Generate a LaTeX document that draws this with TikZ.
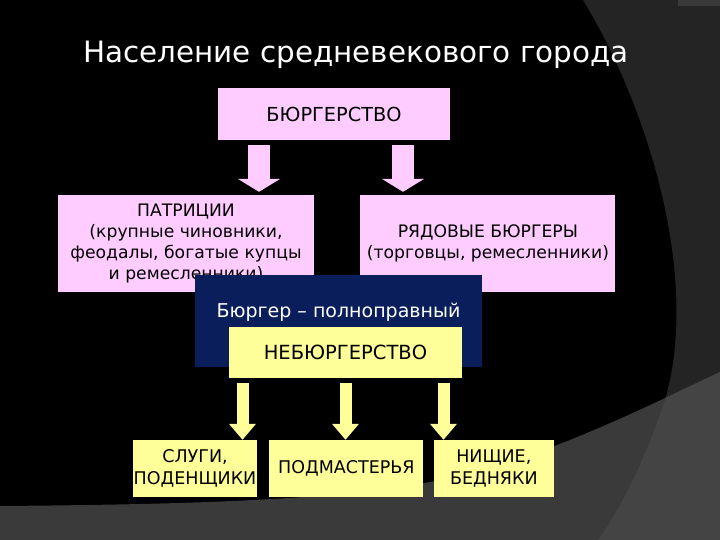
\documentclass[tikz,border=0pt]{standalone}
\usepackage{fontspec}
\setmainfont{DejaVu Sans}
\usepackage{xcolor}
\definecolor{medPink}{HTML}{FFCCFF}
\definecolor{medYellow}{HTML}{FFFF99}
\definecolor{medNavy}{HTML}{0A1E5C}
\definecolor{bgDark}{HTML}{242424}
\definecolor{bgGray}{HTML}{3A3A3A}
\definecolor{bgLight}{HTML}{444444}
\usepackage{tikz}
\usetikzlibrary{arrows.meta,positioning}
\tikzset{pinkbox/.style={fill=medPink, text=black, inner sep=0pt, align=center, font=\fontsize{17.2}{21}\selectfont}}
\tikzset{yellowbox/.style={fill=medYellow, text=black, inner sep=0pt, align=center, font=\fontsize{17.5}{22}\selectfont}}
\tikzset{navybox/.style={fill=medNavy, text=white, inner sep=0pt, font=\fontsize{19}{21}\selectfont}}
\tikzset{pinkarrow/.style={draw=medPink, line width=22pt, shorten >=3pt, -{Triangle[width=42pt,length=13pt]}}}
\tikzset{yellowarrow/.style={draw=medYellow, line width=12pt, shorten >=0pt, -{Triangle[width=26pt,length=16pt]}}}

\begin{document}
\begin{tikzpicture}[x=1pt,y=-1pt]
\useasboundingbox (0,0) rectangle (720,540);
\fill[black] (0,0) rectangle (720,540);
\fill[bgDark] (583,0) .. controls (650,110) and (700,280) .. (665,400) .. controls (645,460) and (620,510) .. (598,540) -- (720,540) -- (720,0) -- cycle;
\fill[bgGray] (0,506) .. controls (250,504) and (400,497) .. (500,465) .. controls (580,440) and (650,405) .. (720,372) -- (720,540) -- (0,540) -- cycle;
\begin{scope}
\clip (0,506) .. controls (250,504) and (400,497) .. (500,465) .. controls (580,440) and (650,405) .. (720,372) -- (720,540) -- (0,540) -- cycle;
\fill[bgLight] (583,0) .. controls (650,110) and (700,280) .. (665,400) .. controls (645,460) and (620,510) .. (598,540) -- (720,540) -- (720,0) -- cycle;
\end{scope}
\fill[bgGray] (678,0) rectangle (720,6);

\node[text=white, font=\fontsize{29.4}{34}\selectfont, anchor=base] (title) at (356,63) {Население средневекового города};

\node[pinkbox, minimum width=232pt, minimum height=52pt, font=\fontsize{19.3}{21}\selectfont] (burg) at (334,114) {БЮРГЕРСТВО};
\node[pinkbox, minimum width=256pt, minimum height=97pt] (patr) at (186,243.5) {ПАТРИЦИИ\\(крупные чиновники,\\феодалы, богатые купцы\\и ремесленники)};
\node[pinkbox, minimum width=255pt, minimum height=97pt, right=46pt of patr] (ryad) {РЯДОВЫЕ БЮРГЕРЫ\\(торговцы, ремесленники)};
\draw[pinkarrow] ([xshift=-75pt,yshift=-5pt]burg.south) -- ([xshift=-75pt]burg.south |- patr.north);
\draw[pinkarrow] ([xshift=69pt,yshift=-5pt]burg.south) -- ([xshift=69pt]burg.south |- ryad.north);

\node[navybox, minimum width=287pt, minimum height=92pt, text height=14pt, text depth=21pt] (burger) at (338.5,321) {Бюргер – полноправный};

\node[yellowbox, minimum width=233pt, minimum height=51pt, font=\fontsize{19.5}{22}\selectfont] (nebu) at (345.5,352.5) {НЕБЮРГЕРСТВО};
\node[yellowbox, minimum width=124pt, minimum height=57pt] (slugi) at (195,468.5) {СЛУГИ,\\ПОДЕНЩИКИ};
\node[yellowbox, minimum width=154pt, minimum height=57pt, right=12pt of slugi] (podm) {ПОДМАСТЕРЬЯ};
\node[yellowbox, minimum width=120pt, minimum height=57pt, right=10pt of podm] (nish) {НИЩИЕ,\\БЕДНЯКИ};
\draw[yellowarrow] ([xshift=-103pt,yshift=-5pt]nebu.south) -- ([xshift=-103pt]nebu.south |- slugi.north);
\draw[yellowarrow] ([yshift=-5pt]nebu.south) -- (nebu.south |- podm.north);
\draw[yellowarrow] ([xshift=98pt,yshift=-5pt]nebu.south) -- ([xshift=98pt]nebu.south |- nish.north);
\end{tikzpicture}
\end{document}
